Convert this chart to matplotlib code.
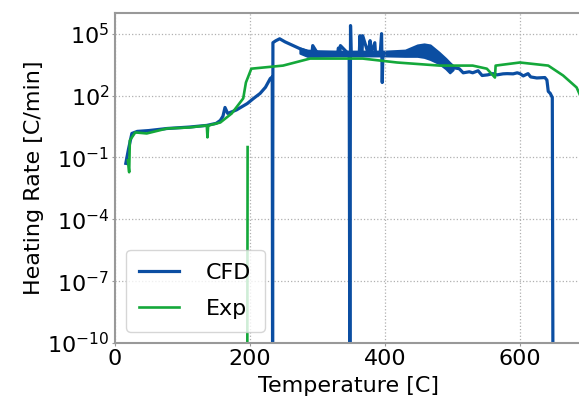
import numpy as np
import matplotlib
matplotlib.use("Agg")
import matplotlib.pyplot as plt

# CFD heating rate (C/min) vs temperature (C); 1e-12 marks points that fall off the log axis
cfd_T = [16, 20, 25, 33, 50, 77, 110, 136, 150, 156, 160, 163, 167, 180, 196, 205, 215, 223, 230, 233,
         233.5, 234, 238, 244, 252, 262, 274, 286, 292, 293, 300, 320, 330, 331, 333, 334, 345,
         347, 348, 349, 350, 355, 362, 363, 364, 366, 367, 375, 378, 379, 385, 386, 393, 395,
         396, 397, 410, 430, 448, 460, 470, 485, 496, 501, 510, 516, 525, 530, 538, 544, 552,
         560, 566, 575, 581, 590, 596, 600, 605, 612, 616, 625, 637, 640, 642, 645, 648, 649, 650]
cfd_log = [-1.29, -0.6, 0.16, 0.26, 0.3, 0.40, 0.47, 0.55, 0.65, 0.79, 1.0, 1.42, 1.13, 1.3, 1.61, 1.85, 2.1, 2.4, 2.82, 2.9,
           -12, 4.56, 4.65, 4.75, 4.6, 4.45, 4.27, 4.12, 4.1, 4.42, 4.05, 4.05, 4.05, 4.3, 4.05, 4.42, 4.05,
           4.05, -12, 5.39, 4.05, 4.05, 4.05, 4.9, 4.05, 4.05, 4.9, 4.05, 4.66, 4.05, 4.56, 4.05, 4.05, 5.0,
           2.63, 4.05, 4.05, 4.05, 4.1, 4.2, 4.0, 3.8, 3.5, 3.35, 3.3, 3.1, 3.15, 3.1, 3.2, 2.97, 3.0,
           3.06, 3.0, 3.05, 3.06, 3.05, 3.1, 3.06, 2.95, 3.06, 2.9, 2.85, 2.87, 2.75, 2.2, 2.1, 1.9, -12, -12]

# thick noisy band of the CFD signal (log10 envelope)
band_T = [274, 285, 300, 330, 360, 400, 430, 448, 458, 467, 480, 490, 496, 501]
band_lo = [4.05, 3.9, 3.9, 3.92, 3.92, 3.92, 3.9, 3.9, 3.85, 3.75, 3.55, 3.3, 3.1, 3.25]
band_hi = [4.3, 4.2, 4.17, 4.15, 4.15, 4.15, 4.2, 4.45, 4.5, 4.45, 4.1, 3.8, 3.6, 3.45]

# experiment
exp_T = [19, 21, 22, 30, 47, 77, 110, 136, 137, 138, 140, 156, 173, 190, 194, 202, 249, 289, 319,
         367, 418, 481, 530, 551, 563, 564, 600, 642, 664, 684, 692,
         np.nan, 196, 196.5]
exp_log = [-1.14, -1.72, -0.18, 0.21, 0.16, 0.40, 0.45, 0.55, -0.03, 0.5, 0.56, 0.69, 1.13, 1.86, 2.63, 3.3,
           3.45, 3.79, 3.79, 3.79, 3.6, 3.45, 3.45, 3.3, 2.87, 3.45, 3.6, 3.45, 2.97, 2.39, 1.8,
           np.nan, -12, -0.5]

blue = "#0b4ea2"
green = "#14a83a"

plt.rcParams["font.size"] = 16

fig = plt.figure(figsize=(5.79, 3.99), dpi=100)
ax = fig.add_axes([115 / 579, 56 / 399, 467 / 579, 330 / 399])

ax.fill_between(band_T, 10.0 ** np.array(band_lo), 10.0 ** np.array(band_hi),
                color=blue, linewidth=1.5)
ax.plot(cfd_T, 10.0 ** np.array(cfd_log), color=blue, lw=2.3, label="CFD")
ax.plot(exp_T, 10.0 ** np.array(exp_log), color=green, lw=1.9, label="Exp")

ax.set_yscale("log")
ax.set_xlim(0, 692)
ax.set_ylim(1e-10, 1e6)
ax.set_yticks([1e-10, 1e-7, 1e-4, 1e-1, 1e2, 1e5])
ax.set_xticks([0, 200, 400, 600])
ax.minorticks_off()

ax.grid(True, color="#b0b0b0", linestyle=":", linewidth=0.9)
for s in ax.spines.values():
    s.set_color("#999999")
    s.set_linewidth(1.5)
ax.spines["right"].set_visible(False)
ax.tick_params(colors="#999999", labelcolor="black", length=2, pad=2, labelsize=16)

ax.set_xlabel("Temperature [C]", fontsize=16, labelpad=5)
ax.set_ylabel("Heating Rate [C/min]", fontsize=16, labelpad=2)

ax.legend(loc="lower left", fontsize=16, handlelength=1.8, handletextpad=1.2,
          labelspacing=0.7, borderpad=0.6)

fig.savefig("out.png", dpi=100)
